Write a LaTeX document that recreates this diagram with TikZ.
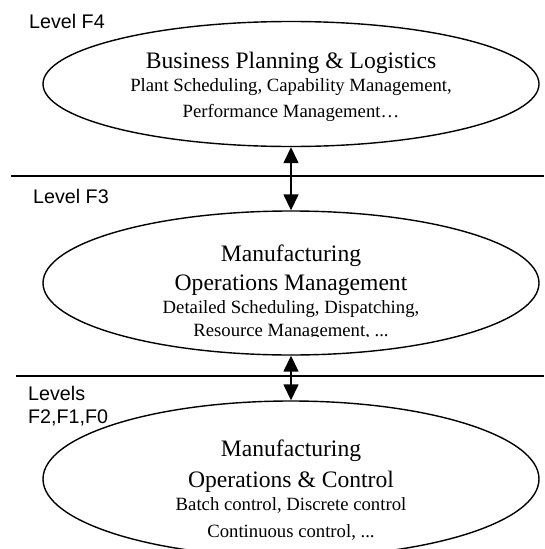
\documentclass[tikz,border=0pt]{standalone}
\usepackage{fontspec}
\setmainfont{Liberation Serif}
\newfontfamily\lblfont{Liberation Sans}
\usetikzlibrary{shapes.geometric,arrows.meta}
\tikzset{
  lvl/.style={shape=ellipse, draw, line width=1.4pt, inner sep=0pt},
  ttl/.style={anchor=base, inner sep=0pt, font=\fontsize{23.6}{26}\selectfont},
  sub/.style={anchor=base, inner sep=0pt, font=\fontsize{18.7}{21}\selectfont},
  lbl/.style={anchor=base west, inner sep=0pt, font=\lblfont\fontsize{19.7}{22}\selectfont},
  sep/.style={line width=1.8pt},
  link/.style={line width=1.5pt, {Triangle[length=16pt,width=15pt]}-{Triangle[length=16pt,width=15pt]}}
}
\begin{document}
\begin{tikzpicture}[x=1pt,y=-1pt]
\useasboundingbox (0,0) rectangle (544,549);
\clip (0,0) rectangle (544,549);
% separators
\coordinate (s1a) at (11,176);
\coordinate (s1b) at (544,176);
\coordinate (s2a) at (16,376);
\coordinate (s2b) at (544,376);
\draw[sep] (s1a) -- (s1b);
\draw[sep] (s2a) -- (s2b);
% ellipses
\node[lvl, minimum width=496pt, minimum height=125pt] (e1) at (291,84) {};
\node[lvl, minimum width=496pt, minimum height=144pt] (e2) at (291,283) {};
\node[lvl, minimum width=496pt, minimum height=156pt] (e3) at (291,479) {};
% connectors
\draw[link] (e1.south) -- (e2.north);
\draw[link] (e2.south) -- (e3.north);
% level labels
\node[lbl] (l4) at (29,28) {Level F4};
\node[lbl] (l3) at (33,203) {Level F3};
\node[lbl] (l2a) at (28,400) {Levels};
\node[lbl] (l2b) at (28,423) {F2,F1,F0};
% texts of F4
\node[ttl] (t1a) at (291,68) {Business Planning \& Logistics};
\node[sub] (t1b) at (291,91) {Plant Scheduling, Capability Management,};
\node[sub] (t1c) at (291,117) {Performance Management…};
% texts of F3
\node[ttl] (t2a) at (291,261) {Manufacturing};
\node[ttl] (t2b) at (291,290) {Operations Management};
\node[sub] (t2c) at (291,313) {Detailed Scheduling, Dispatching,};
\begin{scope}
\clip (100,300) rectangle (480,336);
\node[sub] (t2d) at (291,336) {Resource Management, ...};
\end{scope}
% texts of F2-F0
\node[ttl] (t3a) at (291,456) {Manufacturing};
\node[ttl] (t3b) at (291,487) {Operations \& Control};
\node[sub] (t3c) at (291,510) {Batch control, Discrete control};
\node[sub] (t3d) at (291,537) {Continuous control, ...};
\end{tikzpicture}
\end{document}
